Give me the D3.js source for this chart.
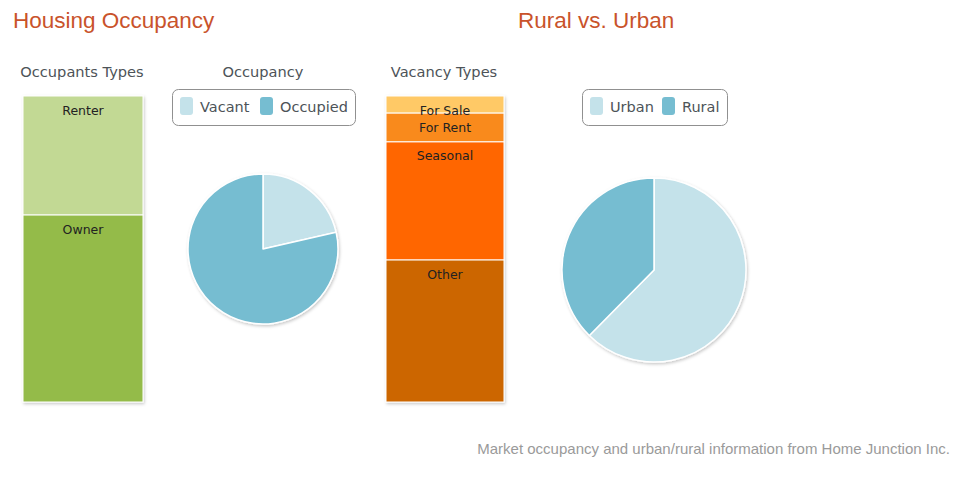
<!DOCTYPE html>
<html><head><meta charset="utf-8">
<script src="https://cdnjs.cloudflare.com/ajax/libs/d3/7.8.5/d3.min.js"></script>
<style>body{margin:0;background:#fff;}svg{display:block;}</style>
</head><body>
<script>
const occupantLabels = ["Renter", "Owner"];
const occupantValues = [38.9, 61.1];
const occupantColors = ["#c2d994", "#94bb4a"];

const occupancyLabels = ["Vacant", "Occupied"];
const occupancyValues = [21.4, 78.6];

const vacancyLabels = ["For Sale", "For Rent", "Seasonal", "Other"];
const vacancyValues = [5.6, 9.4, 38.6, 46.4];
const vacancyColors = ["#ffc966", "#f98a1e", "#ff6600", "#cc6600"];

const areaLabels = ["Urban", "Rural"];
const areaValues = [62.4, 37.6];
const pieColors = ["#c4e2ea", "#76bdd1"];

const W = 953, H = 486;
const svg = d3.select("body").append("svg").attr("width", W).attr("height", H);
const defs = svg.append("defs");
const f = defs.append("filter").attr("id", "sh").attr("x", "-20%").attr("y", "-20%").attr("width", "140%").attr("height", "140%");
f.append("feDropShadow").attr("dx", 1).attr("dy", 1.5).attr("stdDeviation", 1.5).attr("flood-color", "#000").attr("flood-opacity", 0.22);

const sans = "'DejaVu Sans', Verdana, sans-serif";
const arial = "'Liberation Sans', Arial, sans-serif";

// Titles
svg.append("text").attr("x", 13).attr("y", 28).text("Housing Occupancy")
  .attr("font-family", arial).attr("font-size", 22.5).attr("fill", "#c9532b");
svg.append("text").attr("x", 518).attr("y", 28).text("Rural vs. Urban")
  .attr("font-family", arial).attr("font-size", 22.5).attr("fill", "#c9532b");

// Footer
svg.append("text").attr("x", 950).attr("y", 454).attr("text-anchor", "end")
  .text("Market occupancy and urban/rural information from Home Junction Inc.")
  .attr("font-family", arial).attr("font-size", 15).attr("fill", "#9a9a9a");

function subtitle(x, t) {
  svg.append("text").attr("x", x).attr("y", 77).attr("text-anchor", "middle").text(t)
    .attr("font-family", sans).attr("font-size", 14.6).attr("fill", "#4d5358");
}
subtitle(82, "Occupants Types");
subtitle(263, "Occupancy");
subtitle(444, "Vacancy Types");

function stackedBar(x0, x1, labels, values, colors) {
  const total = d3.sum(values);
  const y = d3.scaleLinear().domain([0, total]).range([96, 402]);
  const g = svg.append("g").attr("filter", "url(#sh)");
  let acc = 0;
  const segs = values.map((v, i) => { const s = {label: labels[i], v0: acc, v1: acc + v, color: colors[i]}; acc += v; return s; });
  g.selectAll("rect").data(segs).join("rect")
    .attr("x", x0).attr("width", x1 - x0)
    .attr("y", d => y(d.v0)).attr("height", d => y(d.v1) - y(d.v0))
    .attr("fill", d => d.color).attr("stroke", "#fff").attr("stroke-width", 1);
  svg.append("g").selectAll("text").data(segs).join("text")
    .attr("x", (x0 + x1) / 2).attr("y", d => y(d.v0) + 18.5)
    .attr("text-anchor", "middle").text(d => d.label)
    .attr("font-family", sans).attr("font-size", 12.5).attr("fill", "#222");
}
stackedBar(23, 143, occupantLabels, occupantValues, occupantColors);
stackedBar(386, 504, vacancyLabels, vacancyValues, vacancyColors);

function pie(cx, cy, r, labels, values) {
  const arcs = d3.pie().sort(null).value(d => d)(values);
  const arc = d3.arc().innerRadius(0).outerRadius(r);
  const g = svg.append("g").attr("transform", `translate(${cx},${cy})`).attr("filter", "url(#sh)");
  g.selectAll("path").data(arcs).join("path")
    .attr("d", arc).attr("fill", (d, i) => pieColors[i])
    .attr("stroke", "#fff").attr("stroke-width", 1.5).attr("stroke-linejoin", "round");
}
pie(263, 249, 75, occupancyLabels, occupancyValues);
pie(654, 270, 92, areaLabels, areaValues);

function legend(x, w, labels, offsets) {
  const g = svg.append("g");
  g.append("rect").attr("x", x + 0.5).attr("y", 89.5).attr("width", w).attr("height", 36)
    .attr("rx", 6).attr("fill", "#fff").attr("stroke", "#909090").attr("stroke-width", 1);
  labels.forEach((l, i) => {
    g.append("rect").attr("x", x + offsets[i]).attr("y", 97).attr("width", 13).attr("height", 18)
      .attr("rx", 3).attr("fill", pieColors[i]);
    g.append("text").attr("x", x + offsets[i] + 20).attr("y", 112).text(l)
      .attr("font-family", sans).attr("font-size", 14.5).attr("fill", "#4d5358");
  });
}
legend(172, 183, occupancyLabels, [8, 88]);
legend(582, 145, areaLabels, [8, 80]);
</script>
</body></html>
